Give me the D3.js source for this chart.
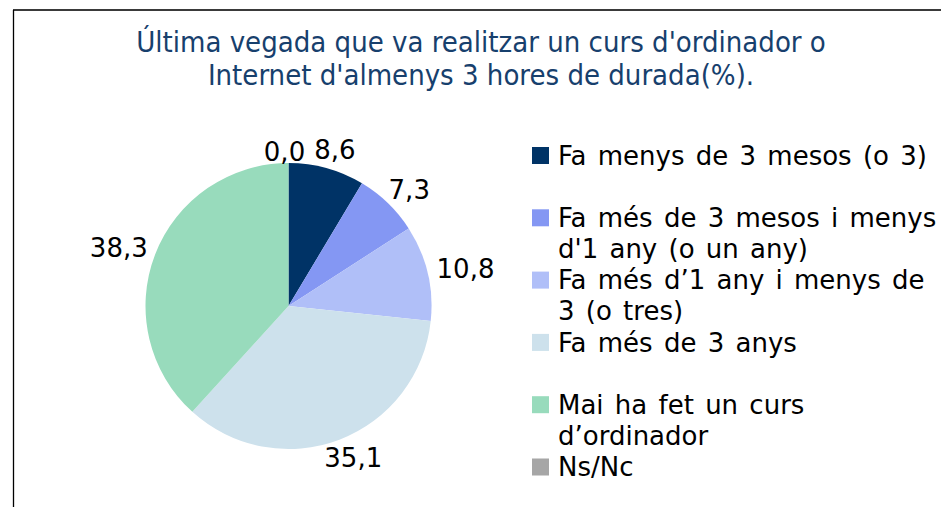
<!DOCTYPE html>
<html lang="ca">
<head>
<meta charset="UTF-8">
<title>Curs d'ordinador</title>
<style>
  body { margin: 0; background: #fff; }
  svg { display: block; }
</style>
</head>
<body>
<div id="chart"></div>
<script src="https://d3js.org/d3.v7.min.js"></script>
<script>
const w = 941;
const h = 507;

// data
const titleLines = ["Última vegada que va realitzar un curs d'ordinador o",
                    "Internet d'almenys 3 hores de durada(%)."];
const categories = ["Fa menys de 3 mesos (o 3)",
                    "Fa més de 3 mesos i menys\nd'1 any (o un any)",
                    "Fa més d’1 any i menys de\n3 (o tres)",
                    "Fa més de 3 anys",
                    "Mai ha fet un curs\nd’ordinador",
                    "Ns/Nc"];
const values = [8.6, 7.3, 10.8, 35.1, 38.3, 0.0];
const colors = ["#003366", "#8497f3", "#b0bff8", "#cde1ec", "#98dbbc", "#a6a6a6"];

const cx = 288.5, cy = 306, r = 143;

const svg = d3.select("#chart").append("svg")
    .attr("width", w)
    .attr("height", h);

// chart frame (only top and left edges are in view)
svg.append("line")
    .attr("x1", 13).attr("x2", w).attr("y1", 10).attr("y2", 10)
    .attr("stroke", "#3a3a3a").attr("stroke-width", 2);
svg.append("line")
    .attr("x1", 13.5).attr("x2", 13.5).attr("y1", 10).attr("y2", h)
    .attr("stroke", "#000").attr("stroke-width", 1.3);

// title
svg.append("text")
    .attr("x", 481)
    .attr("y", 52)
    .attr("text-anchor", "middle")
    .style("font-family", "'DejaVu Sans Condensed', 'DejaVu Sans', sans-serif")
    .style("font-size", "29px")
    .style("fill", "#17406d")
    .selectAll("tspan")
    .data(titleLines)
    .join("tspan")
    .attr("x", 481)
    .attr("dy", (d, i) => i === 0 ? 0 : 33)
    .text(d => d);

// pie
const pie = d3.pie().sort(null).value(d => d);
const arc = d3.arc().innerRadius(0).outerRadius(r);
const arcs = pie(values);

const g = svg.append("g").attr("transform", `translate(${cx},${cy})`);

g.selectAll("path")
    .data(arcs)
    .join("path")
    .attr("d", arc)
    .attr("fill", (d, i) => colors[i]);

// data labels, placed just outside the edge like Excel "outside end"
const fmt = v => v.toFixed(1).replace(".", ",");
const gap = 10;
const labels = g.selectAll("text.lbl")
    .data(arcs)
    .join("text")
    .attr("class", "lbl")
    .attr("text-anchor", "middle")
    .attr("dy", "0.36em")
    .style("font-family", "'DejaVu Sans', sans-serif")
    .style("font-size", "26px")
    .style("fill", "#000")
    .text(d => fmt(d.data));

labels.each(function(d) {
    const a = (d.startAngle + d.endAngle) / 2;
    const bw = this.getComputedTextLength();
    const bh = 19;
    const s = Math.sin(a), c = -Math.cos(a);
    // a zero slice sits on the top seam; Excel tucks its label in, slightly left
    const zero = d.data === 0;
    const x = s * (r + gap) + s * bw / 2 + (zero ? -4 : 0);
    const y = c * (r + (zero ? 2 : gap)) + c * bh / 2;
    d3.select(this).attr("x", x).attr("y", y);
});

// legend
const legY = d3.scaleLinear().domain([0, categories.length - 1]).range([155.5, 467]);
const leg = svg.append("g").attr("transform", "translate(532,0)");

const items = leg.selectAll("g")
    .data(categories)
    .join("g")
    .attr("transform", (d, i) => `translate(0,${legY(i)})`);

items.append("rect")
    .attr("x", 0)
    .attr("y", -8.5)
    .attr("width", 17)
    .attr("height", 17)
    .attr("fill", (d, i) => colors[i]);

items.append("text")
    .attr("x", 26)
    .attr("y", 0)
    .style("font-family", "'DejaVu Sans', sans-serif")
    .style("font-size", "26px")
    .style("word-spacing", "3px")
    .style("fill", "#000")
    .selectAll("tspan")
    .data(d => d.split("\n"))
    .join("tspan")
    .attr("x", 26)
    .attr("dy", (d, i) => i === 0 ? "0.36em" : 30.5)
    .text(d => d);
</script>
</body>
</html>
